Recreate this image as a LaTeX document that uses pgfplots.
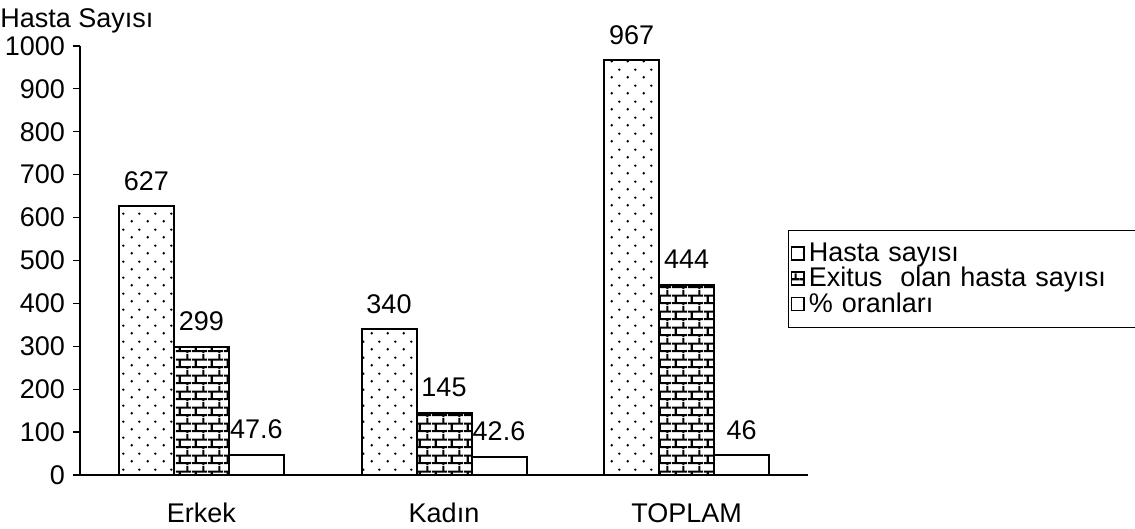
\documentclass[border=0pt]{standalone}
\usepackage{pgfplots}
\pgfplotsset{compat=1.18}
\usepackage{fontspec}
\setmainfont{Liberation Sans}
\usetikzlibrary{patterns,patterns.meta}

\tikzdeclarepattern{
  name=sparsedots, type=uncolored,
  bounding box={(0,0) and (8pt,8pt)},
  tile size={(8pt,8pt)},
  code={
    \fill (2pt,2pt) circle (0.7pt);
    \fill (6pt,6pt) circle (0.7pt);
  }
}
\tikzdeclarepattern{
  name=mybricks, type=uncolored,
  bounding box={(0,0) and (8pt,8pt)},
  tile size={(8pt,8pt)},
  code={
    \draw[line width=1.1pt] (0,1pt) -- (8pt,1pt);
    \draw[line width=1.1pt] (0,5pt) -- (8pt,5pt);
    \draw[line width=1.1pt] (2pt,1pt) -- (2pt,5pt);
    \draw[line width=1.1pt] (6pt,5pt) -- (6pt,8pt);
    \draw[line width=1.1pt] (6pt,0pt) -- (6pt,1pt);
  }
}

\newcommand{\cf}{\fontsize{13.5}{15.5}\selectfont}

\begin{document}
\begin{tikzpicture}[font=\cf]
\begin{axis}[
  scale only axis, width=364pt, height=214.5pt,
  ybar=0pt, bar width=27.5pt,
  xmin=-0.5, xmax=2.5, ymin=0, ymax=1000,
  ytick={0,100,...,1000},
  xtick={0,1,2}, xticklabels={Erkek,Kadın,TOPLAM},
  axis x line*=bottom, axis y line*=left,
  axis line style={line width=0.6pt},
  tick align=outside, major tick length=3.5pt,
  tick style={line width=0.6pt, black},
  xtick style={draw=none},
  extra x ticks={-0.5,0.5,1.5,2.5}, extra x tick labels={},
  extra x tick style={tick style={draw=black, line width=0.6pt}},
  /pgf/number format/assume math mode=true,
  /pgf/number format/set thousands separator={},
  tick label style={font=\cf},
  yticklabel style={xshift=-0.5pt},
  xticklabel style={text height=10pt, text depth=3pt, yshift=-6.5pt},
  nodes near coords,
  every node near coord/.append style={font=\cf, yshift=4pt, black},
  legend style={at={(0.9725,0.571)}, anchor=north west, draw=black, line width=0.6pt,
    font=\cf, row sep=-2.5pt, inner xsep=1pt, inner ysep=4pt, nodes={text width=170pt, align=left}},
  legend cell align=left,
  legend image code/.code={\draw[#1, line width=0.7pt] (0pt,-3.2pt) rectangle (6.4pt,3.2pt);},
]
\addplot[draw=black, line width=1pt, pattern=sparsedots] coordinates {(0,627) (1,340) (2,967)};
\addplot[draw=black, line width=1pt, pattern=mybricks] coordinates {(0,299) (1,145) (2,444)};
\addplot[draw=black, line width=1pt, fill=white] coordinates {(0,47.6) (1,42.6) (2,46)};
\legend{Hasta sayısı, Exitus\ \ olan hasta sayısı, \% oranları}
\end{axis}
\node[anchor=base west, inner sep=0pt] at (-40pt,223.5pt) {Hasta Sayısı};
\pgfresetboundingbox
\path[use as bounding box] (-40pt,-27pt) rectangle (527.5pt,237.5pt);
\end{tikzpicture}
\end{document}
